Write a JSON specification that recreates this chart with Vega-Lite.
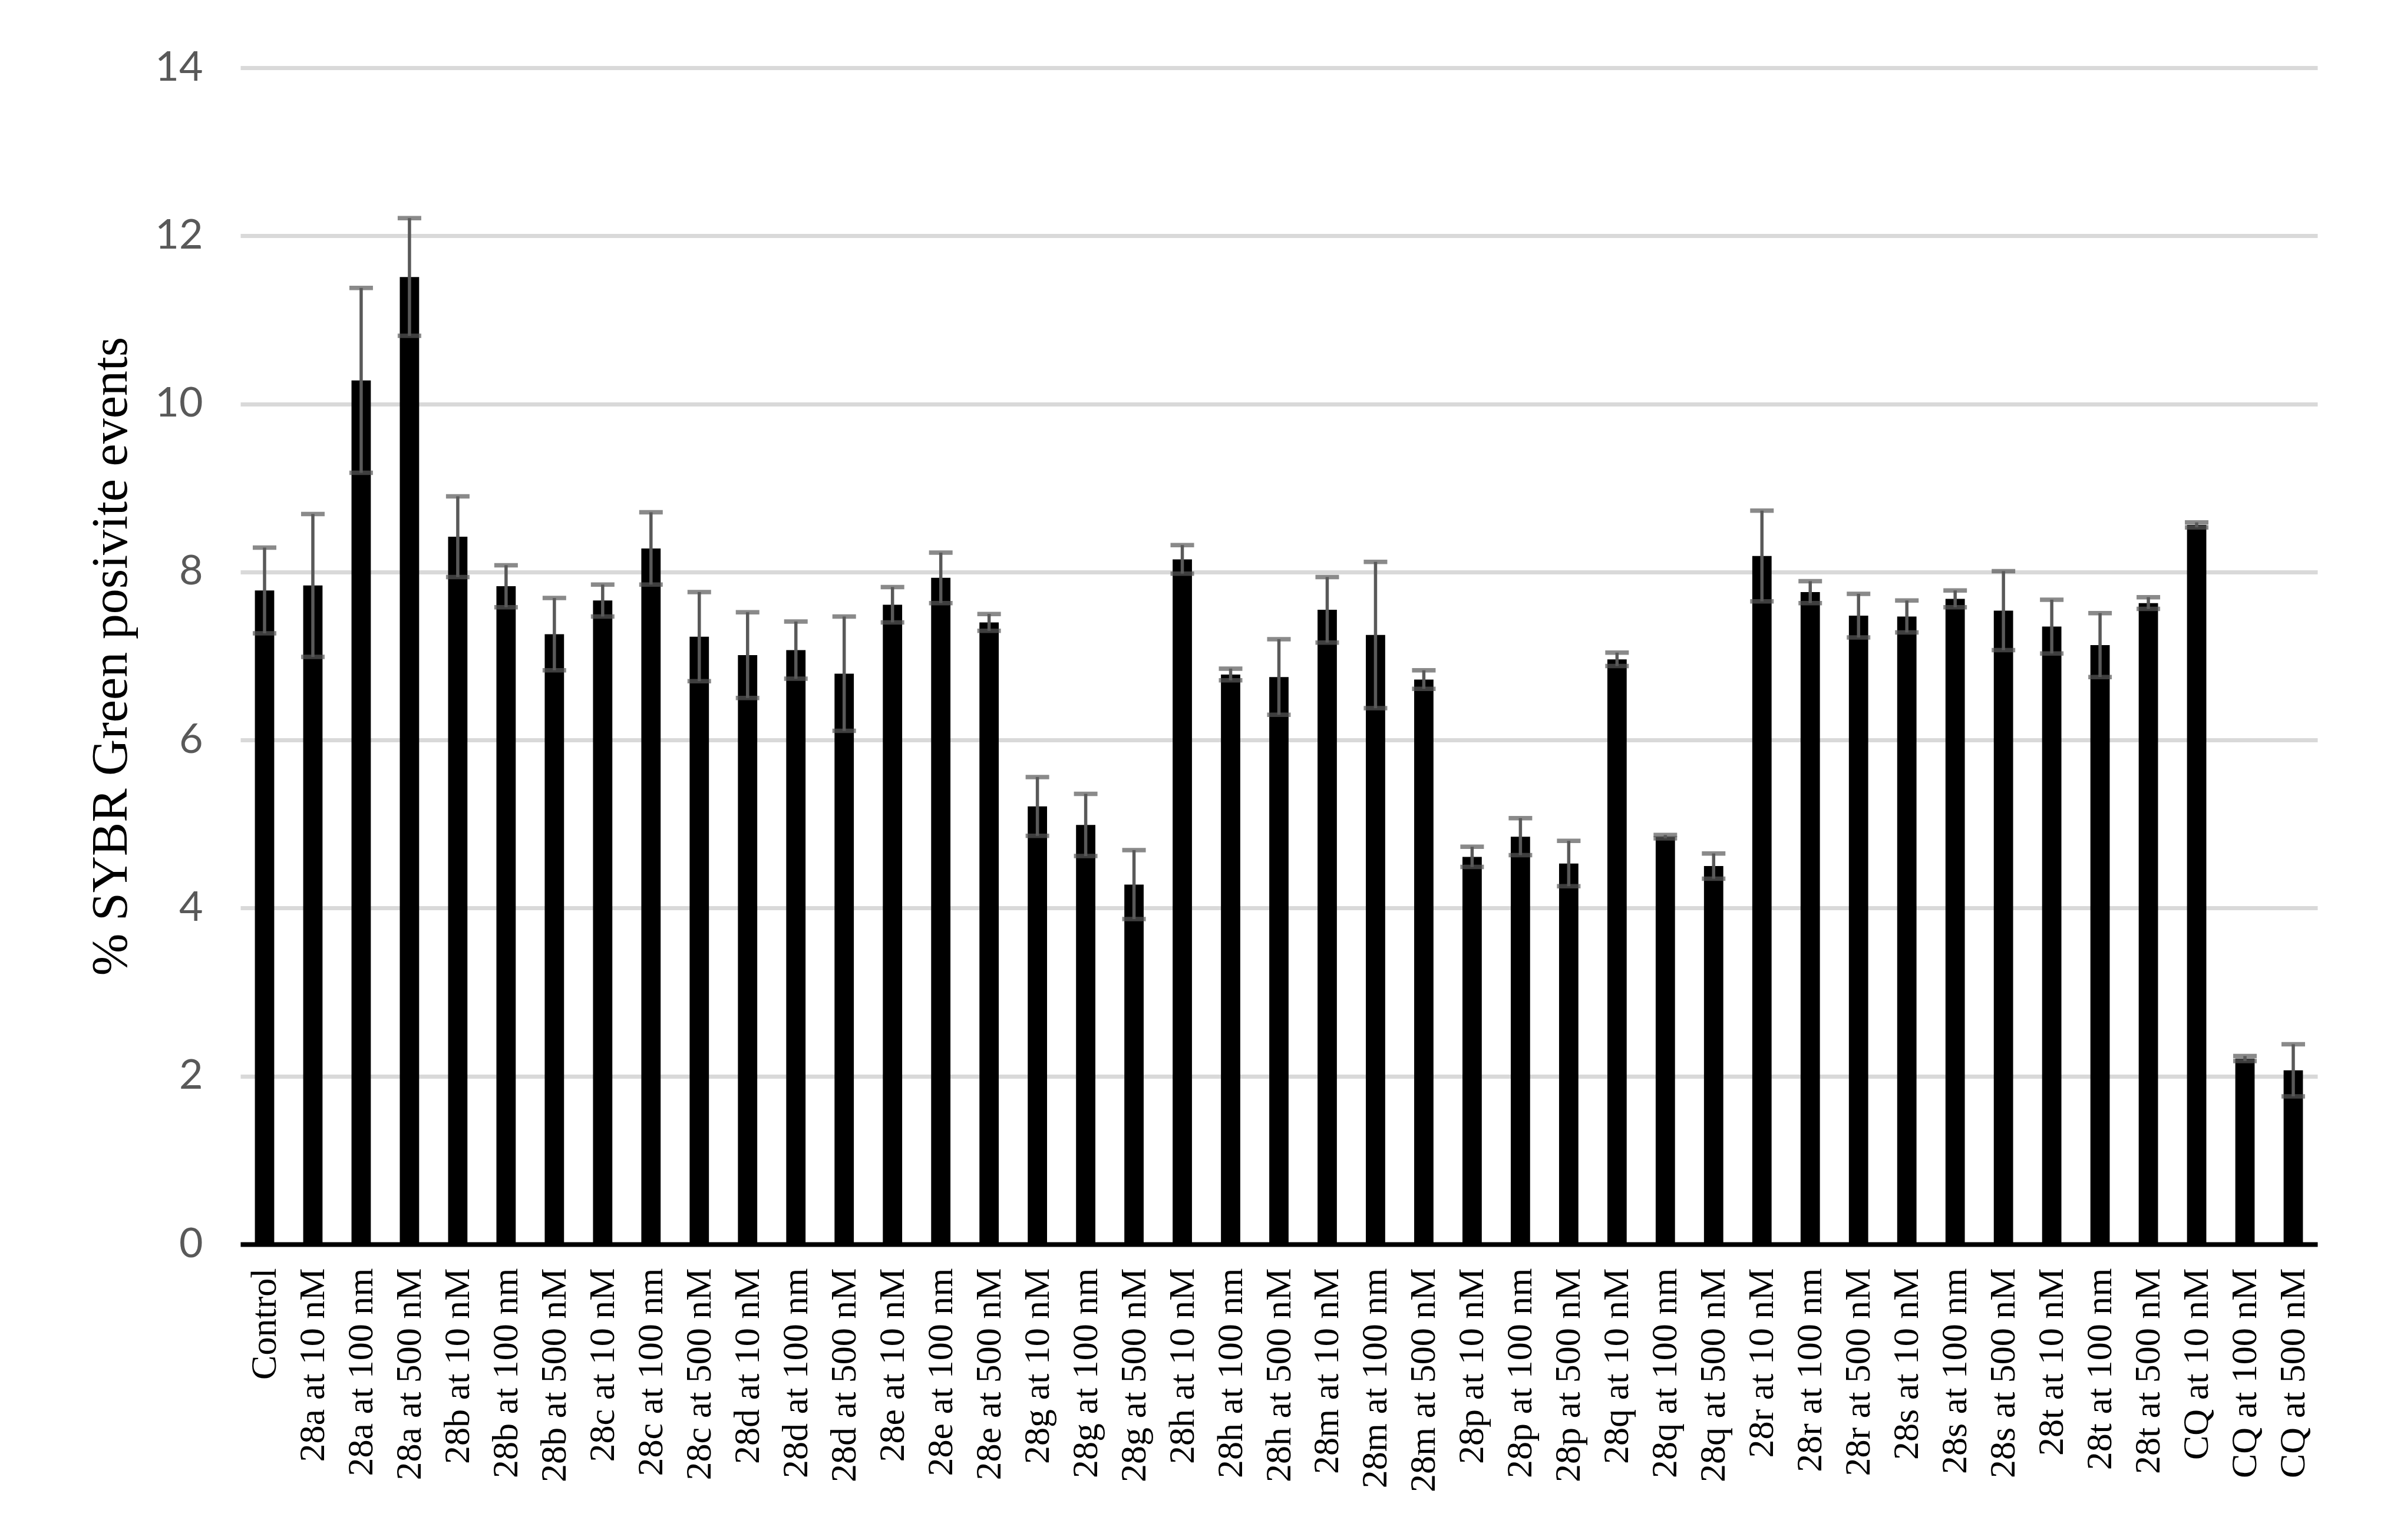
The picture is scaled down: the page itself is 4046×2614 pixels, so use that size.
{
  "$schema": "https://vega.github.io/schema/vega-lite/v6.json",
  "autosize": {"type": "none"},
  "width": 3525,
  "height": 1997,
  "padding": {"left": 408, "top": 115, "right": 113, "bottom": 502},
  "background": "white",
  "config": {
    "view": {"stroke": null},
    "axisY": {
      "titleFont": "Liberation Serif",
      "titleFontSize": 86,
      "titleFontWeight": "normal",
      "titleColor": "black",
      "titlePadding": 30,
      "labelFont": "Lato",
      "labelFontSize": 70,
      "labelColor": "#595959",
      "labelPadding": 64,
      "ticks": false,
      "domain": false,
      "grid": true,
      "gridColor": "#d9d9d9",
      "gridWidth": 7
    }
  },
  "data": {
    "values": [
      {"treatment": "Control", "mean": 7.78, "err": 0.51},
      {"treatment": "28a at 10 nM", "mean": 7.84, "err": 0.85},
      {"treatment": "28a at 100 nm", "mean": 10.28, "err": 1.10},
      {"treatment": "28a at 500 nM", "mean": 11.51, "err": 0.70},
      {"treatment": "28b at 10 nM", "mean": 8.42, "err": 0.48},
      {"treatment": "28b at 100 nm", "mean": 7.83, "err": 0.25},
      {"treatment": "28b at 500 nM", "mean": 7.26, "err": 0.43},
      {"treatment": "28c at 10 nM", "mean": 7.66, "err": 0.19},
      {"treatment": "28c at 100 nm", "mean": 8.28, "err": 0.43},
      {"treatment": "28c at 500 nM", "mean": 7.23, "err": 0.53},
      {"treatment": "28d at 10 nM", "mean": 7.01, "err": 0.51},
      {"treatment": "28d at 100 nm", "mean": 7.07, "err": 0.34},
      {"treatment": "28d at 500 nM", "mean": 6.79, "err": 0.68},
      {"treatment": "28e at 10 nM", "mean": 7.61, "err": 0.21},
      {"treatment": "28e at 100 nm", "mean": 7.93, "err": 0.30},
      {"treatment": "28e at 500 nM", "mean": 7.40, "err": 0.10},
      {"treatment": "28g at 10 nM", "mean": 5.21, "err": 0.35},
      {"treatment": "28g at 100 nm", "mean": 4.99, "err": 0.37},
      {"treatment": "28g at 500 nM", "mean": 4.28, "err": 0.41},
      {"treatment": "28h at 10 nM", "mean": 8.15, "err": 0.17},
      {"treatment": "28h at 100 nm", "mean": 6.78, "err": 0.07},
      {"treatment": "28h at 500 nM", "mean": 6.75, "err": 0.45},
      {"treatment": "28m at 10 nM", "mean": 7.55, "err": 0.39},
      {"treatment": "28m at 100 nm", "mean": 7.25, "err": 0.87},
      {"treatment": "28m at 500 nM", "mean": 6.72, "err": 0.11},
      {"treatment": "28p at 10 nM", "mean": 4.61, "err": 0.12},
      {"treatment": "28p at 100 nm", "mean": 4.85, "err": 0.22},
      {"treatment": "28p at 500 nM", "mean": 4.53, "err": 0.27},
      {"treatment": "28q at 10 nM", "mean": 6.96, "err": 0.08},
      {"treatment": "28q at 100 nm", "mean": 4.85, "err": 0.02},
      {"treatment": "28q at 500 nM", "mean": 4.50, "err": 0.15},
      {"treatment": "28r at 10 nM", "mean": 8.19, "err": 0.54},
      {"treatment": "28r at 100 nm", "mean": 7.76, "err": 0.13},
      {"treatment": "28r at 500 nM", "mean": 7.48, "err": 0.26},
      {"treatment": "28s at 10 nM", "mean": 7.47, "err": 0.19},
      {"treatment": "28s at 100 nm", "mean": 7.68, "err": 0.10},
      {"treatment": "28s at 500 nM", "mean": 7.54, "err": 0.47},
      {"treatment": "28t at 10 nM", "mean": 7.35, "err": 0.32},
      {"treatment": "28t at 100 nm", "mean": 7.13, "err": 0.38},
      {"treatment": "28t at 500 nM", "mean": 7.63, "err": 0.07},
      {"treatment": "CQ at 10 nM", "mean": 8.56, "err": 0.03},
      {"treatment": "CQ at 100 nM", "mean": 2.21, "err": 0.03},
      {"treatment": "CQ at 500 nM", "mean": 2.07, "err": 0.31}
    ]
  },
  "encoding": {
    "x": {
      "field": "treatment",
      "type": "nominal",
      "sort": null,
      "scale": {"paddingInner": 0.6, "paddingOuter": 0.3},
      "axis": {
        "title": null,
        "labelAngle": -90,
        "labelFont": "Liberation Serif",
        "labelFontSize": 62,
        "labelColor": "black",
        "labelLimit": 0,
        "labelOverlap": false,
        "labelPadding": 40,
        "ticks": false,
        "grid": false,
        "domainColor": "black",
        "domainWidth": 8,
        "zindex": 1
      }
    }
  },
  "layer": [
    {
      "mark": {"type": "bar", "color": "black"},
      "encoding": {
        "y": {
          "field": "mean",
          "type": "quantitative",
          "scale": {"domain": [0, 14], "nice": false},
          "title": "% SYBR Green posivite events",
          "axis": {"values": [0, 2, 4, 6, 8, 10, 12, 14]}
        }
      }
    },
    {
      "mark": {
        "type": "errorbar",
        "ticks": {"size": 40, "thickness": 7.5, "color": "#595959"},
        "rule": {"strokeWidth": 5.5, "color": "#595959"}
      },
      "encoding": {
        "y": {
          "field": "mean",
          "type": "quantitative",
          "title": "% SYBR Green posivite events",
          "axis": {"values": [0, 2, 4, 6, 8, 10, 12, 14]}
        },
        "yError": {"field": "err"}
      }
    }
  ]
}
